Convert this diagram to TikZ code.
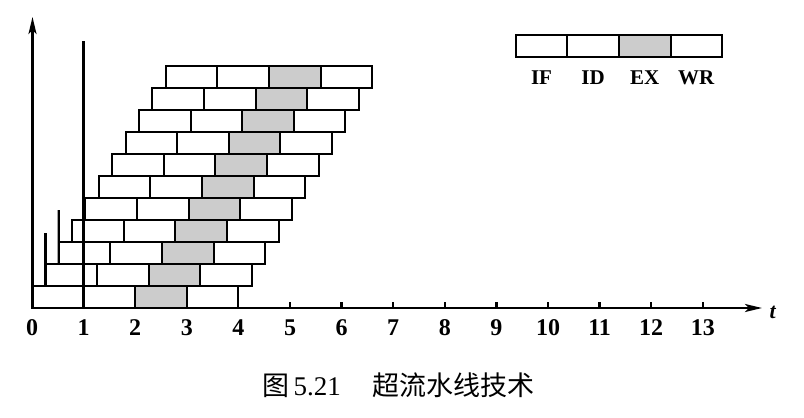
\documentclass[tikz,border=0pt]{standalone}
\usepackage{fontspec}
\setmainfont{Liberation Serif}
\newfontfamily\cjk{Noto Sans CJK SC}
\usetikzlibrary{arrows.meta}
\begin{document}
\begin{tikzpicture}[x=1pt,y=-1pt,
  cell/.style={draw, line width=2pt, minimum width=51.6pt, minimum height=22pt, inner sep=0pt, outer sep=0pt},
  excell/.style={cell, fill=black!20},
  axisline/.style={line width=2.3pt},
  arrowtip/.style={-{Stealth[length=17pt,width=8pt,inset=4pt]}},
  numlbl/.style={anchor=base, font=\fontsize{24}{24}\selectfont\bfseries},
  leglbl/.style={anchor=base, font=\fontsize{21}{21}\selectfont\bfseries}]
\useasboundingbox (0,0) rectangle (804,418);
% pipeline rows
\foreach \i in {0,...,10}{
  \pgfmathsetmacro\sx{32+13.37*\i}
  \pgfmathsetmacro\yc{308-22*\i-11}
  \foreach \j/\st in {0/cell,1/cell,2/excell,3/cell}{
    \pgfmathsetmacro\cx{\sx+51.6*\j+25.8}
    \node[\st] (r\i c\j) at (\cx,\yc) {};
  }
}
% axes
\coordinate (O) at (32.5,308);
\coordinate (ytop) at (32.5,17);
\coordinate (xend) at (762,308);
\draw[axisline,arrowtip] (O) -- (ytop);
\draw[axisline,arrowtip] (O) -- (xend);
% marker lines
\coordinate (v1) at (83.6,41);
\draw[axisline] (r0c0.south east) -- (v1);
\coordinate (va) at (45.37,233);
\draw[axisline] (r1c0.south west) -- (va);
\coordinate (vb) at (58.74,210);
\draw[axisline] (r2c0.south west) -- (vb);
% ticks
\foreach \k in {5,...,13}{
  \coordinate (tk\k) at ({32+51.6*\k},308);
  \draw[axisline] (tk\k) -- ++(0,-6);
}
% tick labels
\foreach \k in {0,...,13}{
  \node[numlbl] (n\k) at ({32+51.6*\k},335) {\k};
}
\node[anchor=base west, font=\fontsize{22}{22}\selectfont\bfseries\itshape] (tlabel) at (766,318) {t};
% legend
\foreach \j/\st/\t in {0/cell/IF,1/cell/ID,2/excell/EX,3/cell/WR}{
  \node[\st] (L\j) at ({541.5+51.6*\j},46.3) {};
  \node[leglbl] (T\j) at ({541.5+51.6*\j},84.3) {\t};
}
% caption
\node[anchor=base west, inner sep=0pt, font=\fontsize{27}{27}\selectfont] (cap) at (262,395) {{\cjk 图}\,5.21\hspace{32pt}{\cjk 超流水线技术}};
\end{tikzpicture}
\end{document}
